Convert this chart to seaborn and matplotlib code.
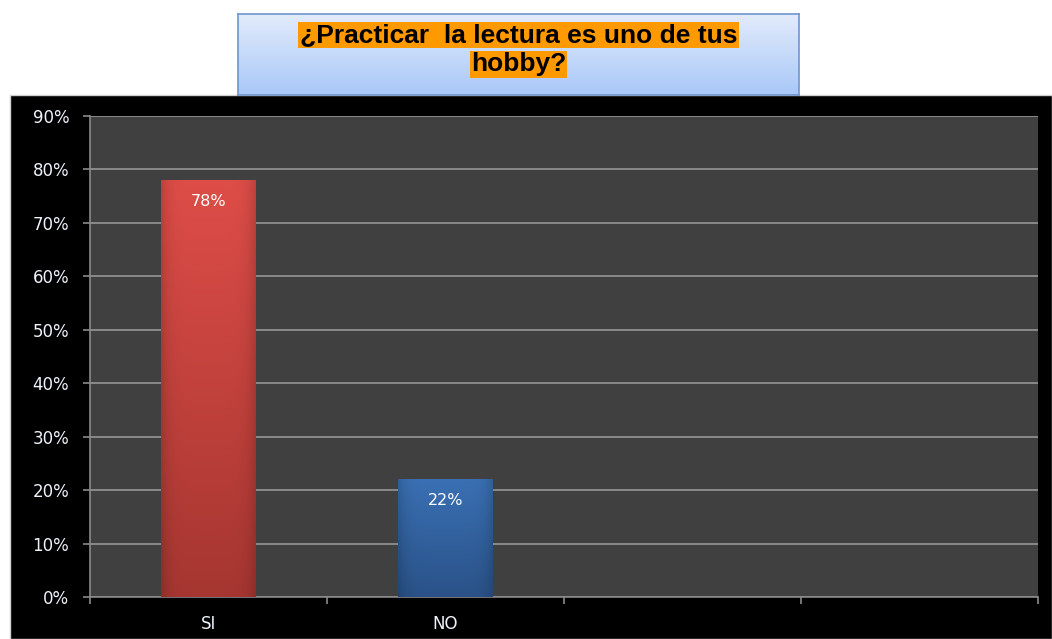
import numpy as np
import pandas as pd
import matplotlib
matplotlib.use("Agg")
import matplotlib.pyplot as plt
import seaborn as sns
from matplotlib.patches import Rectangle
from matplotlib.colors import to_rgb

# Datos
categorias = ["SI", "NO"]
porcentajes = [0.78, 0.22]
etiquetas = ["78%", "22%"]
ticks_y = [0.0, 0.1, 0.2, 0.3, 0.4, 0.5, 0.6, 0.7, 0.8, 0.9]
titulo_l1 = "¿Practicar  la lectura es uno de tus"
titulo_l2 = "hobby?"

W, H = 1052, 639
sns.set_theme(style="dark")
plt.rcParams["font.family"] = ["Liberation Sans", "DejaVu Sans"]

fig = plt.figure(figsize=(W / 100, H / 100), dpi=100)
fig.patch.set_facecolor("white")

# Fondo negro del area del grafico
fig.patches.append(Rectangle((10 / W, 0), (W - 10) / W, (H - 95) / H,
                             transform=fig.transFigure, facecolor="black",
                             edgecolor="#d0d0d0", lw=1, zorder=-10))

ax = fig.add_axes([90 / W, (H - 597) / H, (1038 - 90) / W, (597 - 116) / H])
ax.set_facecolor("#404040")

df = pd.DataFrame({"cat": categorias, "val": porcentajes})
sns.barplot(data=df, x="cat", y="val", hue="cat", order=categorias,
            palette=["#d0413c", "#2f62a3"], width=0.4, legend=False, ax=ax,
            zorder=3)

ax.set_xlim(-0.5, 3.5)
ax.set_ylim(0, 0.9)

# Degradado en las barras
colores = [("#de4d48", "#a63631"), ("#3a70b4", "#2a5288")]
for bar, (c_top, c_bot) in zip(ax.patches, colores):
    x0, y0 = bar.get_x(), bar.get_y()
    w, h = bar.get_width(), bar.get_height()
    t = np.linspace(1, 0, 100)[:, None]
    top, bot = np.array(to_rgb(c_top)), np.array(to_rgb(c_bot))
    img = bot + (top - bot) * t[..., None]
    xs = np.linspace(-1, 1, 60)[None, :]
    shade = 1 - 0.15 * np.abs(xs) ** 6
    img = img * shade[..., None]
    img = np.clip(img, 0, 1)
    im = ax.imshow(img, extent=[x0, x0 + w, y0, y0 + h], aspect="auto",
                   zorder=4, interpolation="bilinear")
    im.set_clip_path(bar)
    bar.set_edgecolor("none")

for i, (v, lab) in enumerate(zip(porcentajes, etiquetas)):
    ax.text(i, v - 0.04, lab, ha="center", va="center", color="white",
            fontsize=11.5, family=["DejaVu Sans"], zorder=5)

# Ejes y rejilla
fuente_ejes = ["DejaVu Sans"]
ax.set_yticks(ticks_y)
ax.set_yticklabels([f"{int(round(t * 100))}%" for t in ticks_y],
                   family=fuente_ejes)
ax.yaxis.grid(True, color="#8a8a8a", lw=1.4, zorder=1)
ax.xaxis.grid(False)
ax.set_axisbelow(True)
ax.set_xticks([-0.5, 0.5, 1.5, 2.5, 3.5])
ax.set_xticklabels([])
ax.set_xticks([0, 1], minor=True)
ax.set_xticklabels(categorias, minor=True, family=fuente_ejes)
ax.tick_params(axis="x", which="major", length=5, width=1.2, color="#8a8a8a",
               direction="out", bottom=True)
ax.tick_params(axis="x", which="minor", length=0, pad=13, labelsize=12,
               labelcolor="#eef3fa")
ax.tick_params(axis="y", length=5, width=1.2, color="#8a8a8a", direction="out",
               left=True, labelsize=12, labelcolor="#eef3fa", pad=10)
for s in ["top", "right"]:
    ax.spines[s].set_visible(False)
ax.spines["left"].set_color("#8a8a8a")
ax.spines["left"].set_linewidth(1.2)
ax.spines["bottom"].set_color("#8a8a8a")
ax.spines["bottom"].set_linewidth(1.2)
ax.set_xlabel("")
ax.set_ylabel("")

# Caja del titulo
tax = fig.add_axes([238 / W, (H - 95) / H, (799 - 238) / W, (95 - 14) / H])
grad = np.linspace(0, 1, 100)[:, None, None]
c1, c2 = np.array(to_rgb("#e2ebfb")), np.array(to_rgb("#a9c8f8"))
tax.imshow(c1 + (c2 - c1) * grad * np.ones((1, 10, 1)), aspect="auto",
           extent=[0, 1, 0, 1])
tax.set_xticks([])
tax.set_yticks([])
for s in tax.spines.values():
    s.set_color("#6f95cf")
    s.set_linewidth(1.2)
tax.set_xlim(0, 1)
tax.set_ylim(0, 1)
tax.text(0.5, 0.74, titulo_l1, ha="center", va="center", fontsize=19,
         fontweight="bold", color="black",
         bbox=dict(facecolor="#ff9900", edgecolor="none", pad=1.0))
tax.text(0.5, 0.38, titulo_l2, ha="center", va="center", fontsize=19,
         fontweight="bold", color="black",
         bbox=dict(facecolor="#ff9900", edgecolor="none", pad=1.0))

fig.savefig("out.png", dpi=100)
